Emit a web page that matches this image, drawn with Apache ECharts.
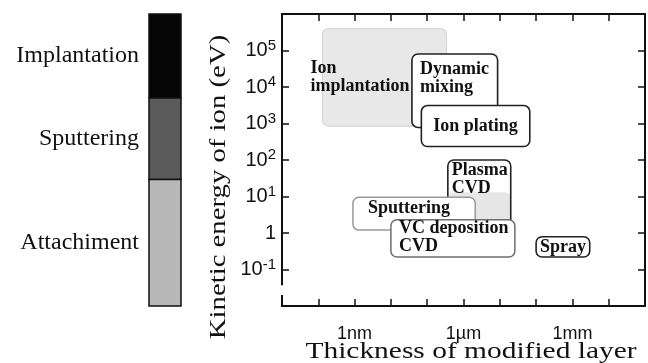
<!DOCTYPE html>
<html lang="en" style="height: 100%">
<head>
<meta charset="utf-8">
<title>Kinetic energy of ion vs thickness of modified layer</title>
</head>
<body style="height: 100%; margin: 0; background: #fff">
<div id="container" style="height: 100%"></div>

<script type="text/javascript" src="https://cdn.jsdelivr.net/npm/echarts/dist/echarts.min.js"></script>

<script type="text/javascript">
var dom = document.getElementById('container');
var myChart = echarts.init(dom, null, { renderer: 'canvas' });

// process regions: thickness (nm) and ion energy (eV) ranges
// '' = unlabelled shaded area under the plasma CVD box
var boxNames   = ['Ion\nimplantation', 'Dynamic\nmixing', 'Ion plating', '', 'Plasma\nCVD', 'Sputtering', 'VC deposition\nCVD', 'Spray'];
var thickFrom  = [0.13, 38, 69, 370, 370, 0.9, 10, 1.0e5];
var thickTo    = [340, 8700, 67000, 20000, 20000, 2100, 26000, 3.0e6];
var energyFrom = [850, 780, 235, 1.5, 1.5, 1.2, 0.22, 0.22];
var energyTo   = [4e5, 8e4, 3100, 13, 100, 9.5, 2.3, 0.79];

// side bar: energy bands (eV)
var bandNames = ['Implantation', 'Sputtering', 'Attachiment'];
var bandFrom  = [5000, 29, 0.01];
var bandTo    = [1e6, 5000, 29];

// axis extents as powers of ten
var xPowMin = -2, xPowMax = 8;   // 0.01 nm .. 100 mm
var yPowMin = -2, yPowMax = 6;   // 0.01 eV .. 1 MeV
var xTickLabels = { 0: '1nm', 3: '1\u00b5m', 6: '1mm' };

// break in the left axis (eV)
var axisBreak = [0.02, 0.037];

var boxStyles = [
    { fill: '#e8e8e8', stroke: '#d6d6d6', lw: 1.2, align: 'left', dx: -12, vAlign: 'middle', dy: 0 },
    { fill: '#fff', stroke: '#222', lw: 1.6, align: 'left', dx: 8, vAlign: 'top', dy: 6 },
    { fill: '#fff', stroke: '#222', lw: 1.6, align: 'center', dx: 0, vAlign: 'middle', dy: 0 },
    { fill: '#e6e6e6', stroke: null, lw: 0 },
    { fill: 'none', stroke: '#222', lw: 1.6, align: 'left', dx: 4, vAlign: 'top', dy: 1 },
    { fill: '#fff', stroke: '#9a9a9a', lw: 1.5, align: 'left', dx: 15, vAlign: 'top', dy: 2 },
    { fill: '#fff', stroke: '#6e6e6e', lw: 1.5, align: 'left', dx: 8, vAlign: 'top', dy: 0 },
    { fill: '#fff', stroke: '#222', lw: 1.6, align: 'center', dx: 0, vAlign: 'middle', dy: 0 }
];
var bandColors = ['#060606', '#5a5a5a', '#b8b8b8'];

var boxData = boxNames.map(function (n, i) {
    return [Math.log10(thickFrom[i]), Math.log10(thickTo[i]),
            Math.log10(energyFrom[i]), Math.log10(energyTo[i])];
});
var bandData = bandNames.map(function (n, i) {
    return [0, 1, Math.log10(bandFrom[i]), Math.log10(bandTo[i])];
});

function renderBox(params, api) {
    var i = params.dataIndex;
    var st = boxStyles[i];
    var tl = api.coord([api.value(0), api.value(3)]);
    var br = api.coord([api.value(1), api.value(2)]);
    var r = { x: tl[0], y: tl[1], width: br[0] - tl[0], height: br[1] - tl[1] };
    var kids = [{
        type: 'rect',
        shape: { x: r.x, y: r.y, width: r.width, height: r.height, r: 6 },
        style: { fill: st.fill, stroke: st.stroke, lineWidth: st.lw }
    }];
    if (boxNames[i]) {
        kids.push({
            type: 'text',
            style: {
                text: boxNames[i],
                x: st.align === 'center' ? r.x + r.width / 2 : r.x + st.dx,
                y: st.vAlign === 'middle' ? r.y + r.height / 2 : r.y + st.dy,
                align: st.align,
                verticalAlign: st.vAlign,
                font: 'bold 18px "Liberation Serif"',
                lineHeight: 18,
                fill: '#111'
            }
        });
    }
    return { type: 'group', children: kids };
}

function renderBand(params, api) {
    var i = params.dataIndex;
    var tl = api.coord([api.value(0), api.value(3)]);
    var br = api.coord([api.value(1), api.value(2)]);
    return {
        type: 'group',
        children: [{
            type: 'rect',
            shape: { x: tl[0], y: tl[1], width: br[0] - tl[0], height: br[1] - tl[1] },
            style: { fill: bandColors[i], stroke: '#111', lineWidth: 1.5 }
        }, {
            type: 'text',
            style: {
                text: bandNames[i],
                x: tl[0] - 10,
                y: (tl[1] + br[1]) / 2,
                align: 'right',
                verticalAlign: 'middle',
                font: '24px "Liberation Serif"',
                fill: '#111'
            }
        }]
    };
}

function renderBreak(params, api) {
    var top = api.coord([api.value(0), api.value(2)]);
    var bot = api.coord([api.value(0), api.value(1)]);
    return {
        type: 'rect',
        shape: { x: top[0] - 3, y: top[1], width: 6, height: bot[1] - top[1] },
        style: { fill: '#fff' }
    };
}

var axisLineStyle = { color: '#111', width: 2 };
var tickStyle = { show: true, inside: true, length: 7, lineStyle: { color: '#111', width: 1.5 } };

var option = {
    backgroundColor: '#fff',
    animation: false,
    grid: [
        { left: 282, right: 3, top: 14, bottom: 57 },
        { left: 149, width: 32, top: 14, bottom: 57 }
    ],
    xAxis: [{
        type: 'value', gridIndex: 0, position: 'bottom',
        min: xPowMin, max: xPowMax, interval: 1,
        axisLine: { onZero: false, lineStyle: axisLineStyle },
        axisTick: tickStyle,
        splitLine: { show: false },
        axisLabel: {
            margin: 19, fontSize: 18, color: '#111', fontFamily: 'Liberation Sans',
            formatter: function (v) { return xTickLabels[v] || ''; }
        }
    }, {
        type: 'value', gridIndex: 0, position: 'top',
        min: xPowMin, max: xPowMax, interval: 1,
        axisLine: { onZero: false, lineStyle: axisLineStyle },
        axisTick: tickStyle,
        splitLine: { show: false },
        axisLabel: { show: false }
    }, {
        type: 'value', gridIndex: 1, min: 0, max: 1, show: false
    }],
    yAxis: [{
        type: 'value', gridIndex: 0, position: 'left',
        min: yPowMin, max: yPowMax, interval: 1,
        axisLine: { onZero: false, lineStyle: axisLineStyle },
        axisTick: tickStyle,
        splitLine: { show: false },
        axisLabel: {
            margin: 6, fontSize: 20, color: '#111', fontFamily: 'Liberation Sans',
            formatter: function (v) {
                if (v === 0) return '1';
                if (v < -1 || v > 5) return '';
                return '{b|10}{s|' + v + '}';
            },
            rich: {
                b: { fontSize: 20, fontFamily: 'Liberation Sans', color: '#111' },
                s: { fontSize: 15, fontFamily: 'Liberation Sans', color: '#111', padding: [0, 0, 10, 0] }
            }
        }
    }, {
        type: 'value', gridIndex: 0, position: 'right',
        min: yPowMin, max: yPowMax, interval: 1,
        axisLine: { onZero: false, lineStyle: axisLineStyle },
        axisTick: tickStyle,
        splitLine: { show: false },
        axisLabel: { show: false }
    }, {
        type: 'value', gridIndex: 1, min: yPowMin, max: yPowMax, show: false
    }],
    graphic: [{
        type: 'text', x: 471, y: 352, scaleX: 1.28,
        style: {
            text: 'Thickness of modified layer', font: '23px "Liberation Serif"',
            align: 'center', verticalAlign: 'middle', fill: '#111'
        }
    }, {
        type: 'text', x: 219, y: 187, rotation: Math.PI / 2, scaleX: 1.25,
        style: {
            text: 'Kinetic energy of ion (eV)', font: '23px "Liberation Serif"',
            align: 'center', verticalAlign: 'middle', fill: '#111'
        }
    }],
    series: [{
        type: 'custom', name: 'processes',
        xAxisIndex: 0, yAxisIndex: 0,
        renderItem: renderBox,
        data: boxData
    }, {
        type: 'custom', name: 'bands',
        xAxisIndex: 2, yAxisIndex: 2,
        renderItem: renderBand,
        data: bandData
    }, {
        type: 'custom', name: 'axis break',
        xAxisIndex: 0, yAxisIndex: 0,
        renderItem: renderBreak,
        data: [[xPowMin, Math.log10(axisBreak[0]), Math.log10(axisBreak[1])]]
    }]
};

myChart.setOption(option);
window.addEventListener('resize', myChart.resize);
</script>
</body>
</html>
